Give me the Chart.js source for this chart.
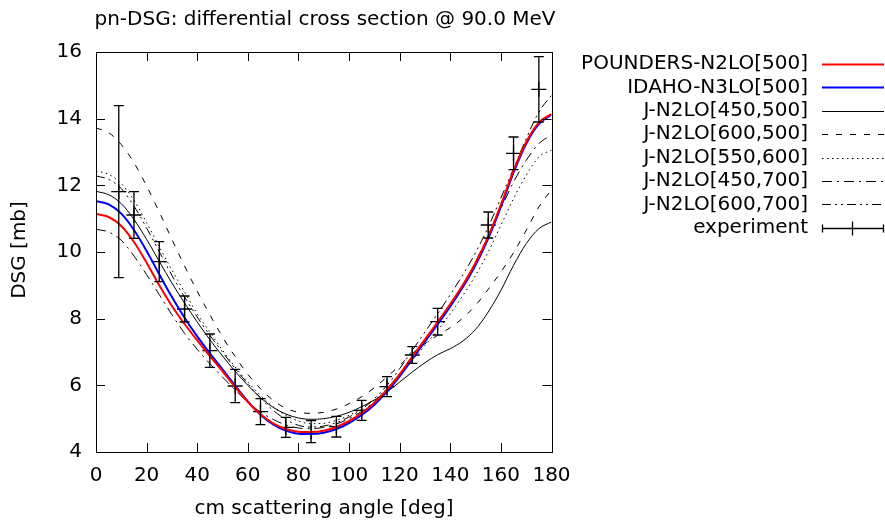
<!DOCTYPE html>
<html>
<head>
<meta charset="utf-8">
<script src="https://cdn.jsdelivr.net/npm/chart.js@4.4.0/dist/chart.umd.min.js"></script>
<style>
  body { margin: 0; background: #fff; }
  #wrap { width: 885px; height: 520px; }
</style>
</head>
<body>
<div id="wrap"><canvas id="dsgChart" width="885" height="520"></canvas></div>
<script>
// theory curves, sampled every 5 deg
const angles = [0,5,10,15,20,25,30,35,40,45,50,55,60,65,70,75,80,85,90,95,100,105,110,115,120,125,130,135,140,145,150,155,160,165,170,175,180];
const pounders = [11.14,11.05,10.78,10.3,9.68,9.0,8.38,7.84,7.35,6.88,6.42,5.95,5.5,5.13,4.86,4.69,4.61,4.6,4.64,4.75,4.93,5.17,5.48,5.87,6.33,6.86,7.38,7.9,8.44,9.02,9.68,10.47,11.42,12.44,13.3,13.88,14.14];
const idaho = [11.52,11.43,11.15,10.66,10.03,9.33,8.65,8.03,7.47,6.96,6.48,5.99,5.52,5.12,4.83,4.64,4.55,4.54,4.58,4.69,4.87,5.11,5.42,5.81,6.27,6.79,7.31,7.83,8.37,8.95,9.61,10.4,11.35,12.38,13.25,13.84,14.12];
const j450_500 = [11.82,11.72,11.45,10.98,10.38,9.72,9.07,8.47,7.9,7.37,6.88,6.42,6.0,5.63,5.34,5.14,5.02,4.98,5.0,5.07,5.19,5.36,5.56,5.8,6.1,6.4,6.68,6.92,7.1,7.33,7.68,8.2,8.85,9.6,10.25,10.7,10.9];
const j600_500 = [13.72,13.58,13.22,12.68,11.98,11.2,10.38,9.58,8.82,8.12,7.45,6.86,6.33,5.9,5.55,5.31,5.19,5.16,5.19,5.29,5.45,5.66,5.93,6.25,6.6,6.95,7.25,7.5,7.73,8.02,8.4,8.88,9.4,9.98,10.65,11.35,11.87];
const j550_600 = [12.43,12.33,12.05,11.55,10.88,10.16,9.46,8.8,8.15,7.6,7.05,6.55,6.1,5.7,5.35,5.1,4.93,4.85,4.86,4.95,5.1,5.3,5.57,5.9,6.3,6.75,7.2,7.65,8.15,8.7,9.3,10.0,10.8,11.6,12.3,12.85,13.06];
const j450_700 = [10.68,10.6,10.35,9.88,9.32,8.72,8.12,7.56,7.08,6.65,6.25,5.86,5.5,5.2,4.98,4.81,4.72,4.7,4.74,4.84,5.0,5.22,5.52,5.9,6.35,6.85,7.35,7.85,8.4,9.0,9.7,10.5,11.3,12.1,12.75,13.25,13.51];
const j600_700 = [12.28,12.18,11.9,11.38,10.72,10.01,9.3,8.65,8.05,7.5,7.0,6.5,6.05,5.62,5.25,4.98,4.8,4.75,4.78,4.88,5.05,5.28,5.6,6.0,6.5,7.05,7.6,8.15,8.72,9.32,9.98,10.75,11.62,12.5,13.4,14.2,14.7];

// experiment
const expAngle = [9,15,25,35,45,55,65,75,85,95,105,115,125,135,155,165,175];
const expDsg = [11.81,11.11,9.71,8.29,7.04,5.98,5.21,4.74,4.61,4.76,5.25,5.96,6.91,7.91,10.81,12.96,14.88];
const expErr = [2.58,0.70,0.60,0.39,0.50,0.50,0.39,0.30,0.33,0.31,0.30,0.30,0.25,0.40,0.39,0.49,0.98];

const xTicks = [0,20,40,60,80,100,120,140,160,180];
const yTicks = [4,6,8,10,12,14,16];

const FONT = '"DejaVu Sans", sans-serif';
const toXY = (xs, ys) => xs.map((x, i) => ({ x: x, y: ys[i] }));

function curve(label, values, color, width, dash) {
  return {
    label: label,
    data: toXY(angles, values),
    borderColor: color,
    borderWidth: width,
    borderDash: dash,
    pointRadius: 0,
    fill: false,
    cubicInterpolationMode: 'monotone'
  };
}

const datasets = [
  curve('POUNDERS-N2LO[500]', pounders, '#ff0000', 2, []),
  curve('IDAHO-N3LO[500]', idaho, '#0000ff', 2, []),
  curve('J-N2LO[450,500]', j450_500, '#000000', 1, []),
  curve('J-N2LO[600,500]', j600_500, '#000000', 1, [6, 8]),
  curve('J-N2LO[550,600]', j550_600, '#000000', 1, [1.5, 3.5]),
  curve('J-N2LO[450,700]', j450_700, '#000000', 1, [10, 5, 2, 5]),
  curve('J-N2LO[600,700]', j600_700, '#000000', 1, [9, 4, 2, 4, 2, 4]),
  {
    label: 'experiment',
    data: toXY(expAngle, expDsg),
    showLine: false,
    borderColor: '#000000',
    backgroundColor: '#000000',
    borderWidth: 1.3,
    pointStyle: 'cross',
    pointRadius: 7.5,
    errors: expErr
  }
];

// frame, inward ticks, error bars, titles, legend
const gnuplotLook = {
  id: 'gnuplotLook',
  afterDatasetsDraw(chart) {
    const ctx = chart.ctx;
    const a = chart.chartArea;
    const xs = chart.scales.x, ys = chart.scales.y;
    ctx.save();
    ctx.strokeStyle = '#000';
    ctx.setLineDash([]);

    // error bars
    const exp = chart.data.datasets[7];
    ctx.lineWidth = 1.3;
    exp.data.forEach((p, i) => {
      const px = xs.getPixelForValue(p.x);
      const top = ys.getPixelForValue(p.y + exp.errors[i]);
      const bot = ys.getPixelForValue(p.y - exp.errors[i]);
      ctx.beginPath();
      ctx.moveTo(px, top); ctx.lineTo(px, bot);
      ctx.moveTo(px - 5, top); ctx.lineTo(px + 5, top);
      ctx.moveTo(px - 5, bot); ctx.lineTo(px + 5, bot);
      ctx.stroke();
    });

    // ticks
    ctx.lineWidth = 1;
    ctx.beginPath();
    xTicks.forEach(v => {
      const px = Math.round(xs.getPixelForValue(v)) + 0.5;
      ctx.moveTo(px, a.bottom); ctx.lineTo(px, a.bottom - 9);
      ctx.moveTo(px, a.top); ctx.lineTo(px, a.top + 9);
    });
    yTicks.forEach(v => {
      const py = Math.round(ys.getPixelForValue(v)) + 0.5;
      ctx.moveTo(a.left, py); ctx.lineTo(a.left + 9, py);
      ctx.moveTo(a.right, py); ctx.lineTo(a.right - 9, py);
    });
    ctx.stroke();
    ctx.strokeRect(Math.round(a.left) + 0.5, Math.round(a.top) + 0.5,
      Math.round(a.right - a.left), Math.round(a.bottom - a.top));

    // titles
    ctx.fillStyle = '#000';
    ctx.font = '20px ' + FONT;
    ctx.textAlign = 'center';
    ctx.textBaseline = 'middle';
    ctx.fillText('pn-DSG: differential cross section @ 90.0 MeV', 325, 20);
    ctx.fillText('cm scattering angle [deg]', 324, 509);
    ctx.save();
    ctx.translate(20, 250);
    ctx.rotate(-Math.PI / 2);
    ctx.fillText('DSG [mb]', 0, 0);
    ctx.restore();

    // legend
    ctx.textAlign = 'right';
    chart.data.datasets.forEach((ds, i) => {
      const y = 64 + i * 23.4;
      ctx.fillStyle = '#000';
      ctx.fillText(ds.label, 808, y);
      const yy = Math.round(y) + 0.5;
      ctx.strokeStyle = ds.borderColor;
      ctx.lineWidth = ds.borderWidth;
      ctx.setLineDash(ds.showLine === false ? [] : ds.borderDash);
      ctx.beginPath();
      ctx.moveTo(822, yy); ctx.lineTo(884, yy);
      if (ds.showLine === false) {
        ctx.moveTo(822.5, yy - 4); ctx.lineTo(822.5, yy + 4);
        ctx.moveTo(883.5, yy - 4); ctx.lineTo(883.5, yy + 4);
        ctx.moveTo(852.5, yy - 7); ctx.lineTo(852.5, yy + 7);
      }
      ctx.stroke();
    });
    ctx.restore();
  }
};

new Chart(document.getElementById('dsgChart').getContext('2d'), {
  type: 'line',
  data: { datasets: datasets },
  options: {
    responsive: false,
    animation: false,
    devicePixelRatio: 1,
    layout: { padding: { left: 0, right: 333.5, top: 52, bottom: 0 } },
    plugins: {
      legend: { display: false },
      tooltip: { enabled: false }
    },
    scales: {
      x: {
        type: 'linear',
        min: 0,
        max: 180,
        afterBuildTicks: s => { s.ticks = xTicks.map(v => ({ value: v })); },
        afterFit: s => { s.height = 68; },
        grid: { display: false, drawTicks: false },
        border: { display: false },
        ticks: { color: '#000', font: { family: FONT, size: 20 }, padding: 12, maxRotation: 0 }
      },
      y: {
        type: 'linear',
        min: 4,
        max: 16,
        afterBuildTicks: s => { s.ticks = yTicks.map(v => ({ value: v })); },
        afterFit: s => { s.width = 96; },
        grid: { display: false, drawTicks: false },
        border: { display: false },
        ticks: { color: '#000', font: { family: FONT, size: 20 }, padding: 14 }
      }
    }
  },
  plugins: [gnuplotLook]
});
</script>
</body>
</html>
